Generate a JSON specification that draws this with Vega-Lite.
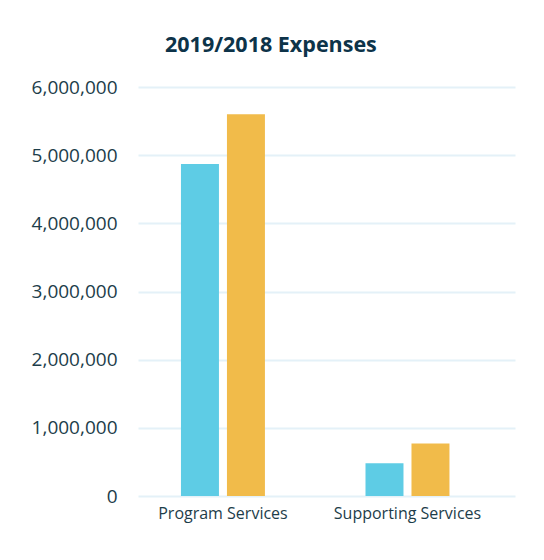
{
  "$schema": "https://vega.github.io/schema/vega-lite/v6.json",
  "autosize": "none",
  "width": 377,
  "height": 409,
  "padding": {"left": 138, "top": 87, "right": 29, "bottom": 64},
  "background": "white",
  "title": {
    "text": "2019/2018 Expenses",
    "anchor": "start",
    "frame": "group",
    "dx": 27,
    "offset": 22,
    "font": "Open Sans",
    "fontSize": 21.5,
    "fontWeight": "bold",
    "color": "#0d3349"
  },
  "data": {
    "values": [
      {"category": "Program Services", "year": "2019", "amount": 4870000},
      {"category": "Program Services", "year": "2018", "amount": 5600000},
      {"category": "Supporting Services", "year": "2019", "amount": 480000},
      {"category": "Supporting Services", "year": "2018", "amount": 770000}
    ]
  },
  "mark": {"type": "bar"},
  "encoding": {
    "x": {
      "field": "category",
      "type": "nominal",
      "sort": null,
      "scale": {"paddingInner": 0.545, "paddingOuter": 0.294, "align": 0.396},
      "axis": {
        "title": null,
        "labelAngle": 0,
        "ticks": false,
        "domain": false,
        "labelFont": "Open Sans",
        "labelFontSize": 16,
        "labelColor": "#1d3d4a",
        "labelPadding": 9
      }
    },
    "xOffset": {
      "field": "year",
      "type": "nominal",
      "sort": ["2019", "2018"],
      "scale": {"paddingInner": 0.174, "paddingOuter": 0}
    },
    "y": {
      "field": "amount",
      "type": "quantitative",
      "scale": {"domain": [0, 6000000], "nice": false},
      "axis": {
        "title": null,
        "values": [0, 1000000, 2000000, 3000000, 4000000, 5000000, 6000000],
        "format": ",d",
        "ticks": false,
        "domain": false,
        "labelFont": "Open Sans",
        "labelFontSize": 19,
        "labelColor": "#1d3d4a",
        "labelPadding": 21,
        "gridColor": "#e4f1f8",
        "gridWidth": 2
      }
    },
    "color": {
      "field": "year",
      "type": "nominal",
      "sort": ["2019", "2018"],
      "scale": {"domain": ["2019", "2018"], "range": ["#5ecce5", "#f1bb4a"]},
      "legend": null
    }
  },
  "config": {"view": {"stroke": null}}
}
